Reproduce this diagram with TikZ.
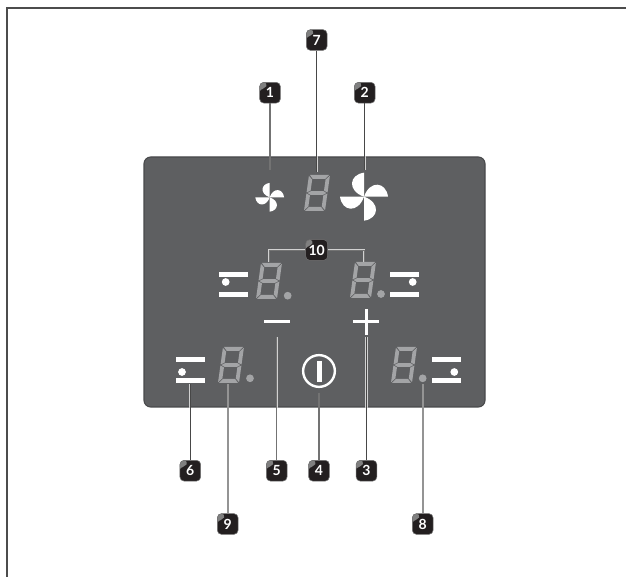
\documentclass[tikz,border=0pt]{standalone}
\usepackage{fontspec}
\newfontfamily\badgefont{Lato}[BoldFont={Lato Bold}]
\definecolor{panelgrey}{HTML}{5E5F61}
\definecolor{panelline}{HTML}{48494B}
\definecolor{seggrey}{HTML}{A3A4A6}
\definecolor{badgeblack}{HTML}{231F20}
\tikzset{
  badge/.style={rectangle,rounded corners=3pt,minimum size=15.5pt,inner sep=0pt,
    draw=black!55,line width=.4pt,fill=badgeblack,text=white,
    font=\badgefont\bfseries\fontsize{10.5}{11}\selectfont,
    path picture={\fill[black!50] (path picture bounding box.north west)
      -- ([xshift=6pt]path picture bounding box.north west)
      .. controls +(-1pt,-3pt) and +(1pt,2pt) .. ([yshift=-8pt]path picture bounding box.north west) -- cycle;}},
  halo/.style={line width=1.7pt,black!18},
  leaddark/.style={line width=.7pt,black!72},
  leadmid/.style={line width=.9pt,black!55},
  leadwide/.style={line width=1.7pt,black!42},
  bar/.style={fill=white},
  segdigit/.pic={
    \begin{scope}[xslant=0.14]
    \fill[seggrey] (1,0)--(20,0)--(16.6,4)--(4.4,4)--cycle;
    \fill[seggrey] (0,.8)--(3.8,4.6)--(3.8,15.6)--(0,17.5)--cycle;
    \fill[seggrey] (21,.8)--(17.2,4.6)--(17.2,15.6)--(21,17.5)--cycle;
    \fill[seggrey] (1,18)--(4.4,16.1)--(16.6,16.1)--(20,18)--(16.6,19.9)--(4.4,19.9)--cycle;
    \fill[seggrey] (0,18.5)--(3.8,20.4)--(3.8,31.4)--(0,35.2)--cycle;
    \fill[seggrey] (21,18.5)--(17.2,20.4)--(17.2,31.4)--(21,35.2)--cycle;
    \fill[seggrey] (4.4,32)--(16.6,32)--(20,36)--(1,36)--cycle;
    \end{scope}},
  fanicon/.pic={
    \fill[white] (0,0)--(0,-24) .. controls (-15,-22) and (-17,-6) .. (0,0)--cycle;
    \fill[white,rotate=90] (0,0)--(0,-24) .. controls (-15,-22) and (-17,-6) .. (0,0)--cycle;
    \fill[white,rotate=180] (0,0)--(0,-24) .. controls (-15,-22) and (-17,-6) .. (0,0)--cycle;
    \fill[white,rotate=270] (0,0)--(0,-24) .. controls (-15,-22) and (-17,-6) .. (0,0)--cycle;}
}
\begin{document}
\begin{tikzpicture}[x=.75pt,y=-.75pt]
\useasboundingbox (0,0) rectangle (626,577);

% frame
\draw[line width=1pt,black!70] (7,577)--(7,8)--(626,8);

% panel
\node[rectangle,rounded corners=5pt,fill=panelgrey,draw=panelline,line width=.8pt,
  minimum width=255.75pt,minimum height=187.5pt,inner sep=0pt] (panel) at (314.5,282) {};

% badges
\node[badge] (b1) at (270,92.7) {1};
\node[badge] (b2) at (364.7,92.7) {2};
\node[badge] (b3) at (366.5,470.7) {3};
\node[badge] (b4) at (319,470.7) {4};
\node[badge] (b5) at (276.7,470.7) {5};
\node[badge] (b6) at (190.3,470.7) {6};
\node[badge] (b7) at (316.7,40) {7};
\node[badge] (b8) at (422.7,524) {8};
\node[badge] (b9) at (227.7,524) {9};
\node[badge,minimum width=16.5pt] (b10) at (316.7,250) {10};

% leader ends
\coordinate (e1) at (270,170);
\coordinate (e2) at (364.7,170);
\coordinate (e3) at (366.5,337);
\coordinate (e4) at (319,393);
\coordinate (e5) at (276.7,337);
\coordinate (e6) at (190.3,384);
\coordinate (e7) at (316.7,172);
\coordinate (e8) at (422.7,384);
\coordinate (e9) at (227.7,384);
\coordinate (e10a) at (269.3,262);
\coordinate (e10b) at (364.3,262);

% leaders
\draw[halo] (e1)--(e1|-panel.north);
\draw[halo] (e2)--(e2|-panel.north);
\draw[halo] (e7)--(e7|-panel.north);
\draw[halo] (e3)--(e3|-panel.south);
\draw[halo] (e4)--(e4|-panel.south);
\draw[halo] (e5)--(e5|-panel.south);
\draw[halo] (e6)--(e6|-panel.south);
\draw[halo] (b10)-|(e10a);
\draw[halo] (b10)-|(e10b);
\draw[leadmid] (b1)--(e1);
\draw[leaddark] (b2)--(e2);
\draw[leaddark] (b3)--(e3);
\draw[leadmid] (b4)--(e4);
\draw[leadmid] (b5)--(e5);
\draw[leaddark] (b6)--(e6);
\draw[leaddark] (b7)--(e7);
\draw[leadwide] (b8)--(e8);
\draw[leadwide] (b9)--(e9);
\draw[line width=.5pt,black!55] (b10)-|(e10a);
\draw[line width=.5pt,black!55] (b10)-|(e10b);

% fans and digits
\pic[scale=.6] at (269.7,197.3) {fanicon};
\pic at (364,196.7) {fanicon};
\pic at (309,175) {segdigit};
\pic at (261,263) {segdigit};
\pic at (355,262) {segdigit};
\pic at (223,347) {segdigit};
\pic at (396,347) {segdigit};
\fill[seggrey] (287.7,295.7) circle (2.9pt);
\fill[seggrey] (381,294) circle (2.9pt);
\fill[seggrey] (250,378.3) circle (2.9pt);
\fill[seggrey] (422.7,378.3) circle (2.9pt);

% zone marks
\fill[bar] (219,272) rectangle (248,277);
\fill[bar] (219,292) rectangle (248,297);
\fill[bar] (225.7,282) circle (2.9pt);
\fill[bar] (390,272) rectangle (419,277);
\fill[bar] (390,292) rectangle (419,297);
\fill[bar] (412.7,282) circle (2.9pt);
\fill[bar] (176,357) rectangle (205,362);
\fill[bar] (176,378) rectangle (205,383);
\fill[bar] (182,372) circle (2.9pt);
\fill[bar] (432,357) rectangle (461,362);
\fill[bar] (432,378) rectangle (461,383);
\fill[bar] (454.3,372) circle (2.9pt);

% minus, plus, on/off
\fill[bar] (264,320) rectangle (290,322.7);
\fill[bar] (353,320.5) rectangle (379,323);
\fill[bar] (365,309) rectangle (367.7,335);
\draw[white,line width=1.8pt] (319,371) circle (11.9pt);
\fill[bar] (316.7,360.7) rectangle (321.7,382);
\end{tikzpicture}
\end{document}
